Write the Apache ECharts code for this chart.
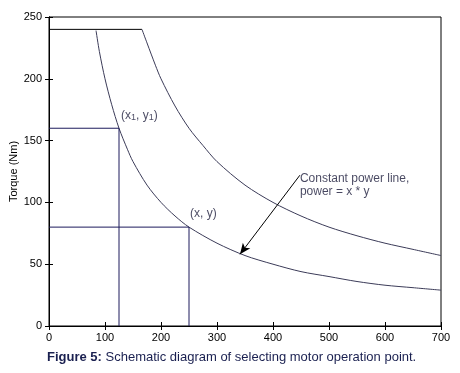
<!DOCTYPE html>
<html lang="en">
<head>
    <meta charset="utf-8">
    <title>motor operation point</title>
    <script src="https://cdn.jsdelivr.net/npm/echarts@6/dist/echarts.min.js"></script>
    <style>
        html, body { margin: 0; padding: 0; background: #fff; }
        #chart { width: 460px; height: 373px; }
    </style>
</head>
<body>
<div id="chart"></div>
<script>
    // values
    var xTicks = [0, 100, 200, 300, 400, 500, 600, 700];
    var yTicks = [0, 50, 100, 150, 200, 250];

    // torque limit (flat part)
    var limitX = [0, 166];
    var limitY = [240, 240];

    // upper constant power curve
    var upperX = [166, 175, 190, 200, 225, 250, 275, 300, 350, 400, 450, 500, 550, 600, 650, 700];
    var upperY = [240, 229, 211, 200, 178, 160, 146, 133, 114, 100, 89, 80, 73, 67, 62, 57];

    // lower constant power curve
    var lowerX = [84, 90, 100, 112, 125, 140, 150, 175, 200, 225, 250, 300, 350, 400, 450, 500, 550, 600, 650, 700];
    var lowerY = [239, 222, 200, 179, 160, 143, 133, 114, 100, 89, 80, 67, 57, 50, 44, 40, 36, 33, 31, 29];

    // operating points (x1,y1) and (x,y)
    var point1 = [125, 160];
    var point2 = [250, 80];

    // arrow from note to lower curve
    var arrowFrom = [448, 122];
    var arrowTo = [341, 58];

    function zip(xs, ys) {
        return xs.map(function (x, i) { return [x, ys[i]]; });
    }

    var chart = echarts.init(document.getElementById('chart'));
    var font = 'Liberation Sans, Arial, sans-serif';
    var navy = '#1c1a5c';
    var curveColor = '#3b3b58';
    var textColor = '#1a1a3a';

    var tickCommon = {
        axisTick: { inside: true, length: 4, lineStyle: { color: '#000' } },
        splitLine: { show: false },
        axisLine: { show: true, lineStyle: { color: '#000', width: 1 } }
    };

    chart.setOption({
        animation: false,
        grid: {
            left: 49, right: 19, top: 17, bottom: 47,
            outerBoundsMode: 'none', containLabel: false,
            show: true, borderColor: '#000', borderWidth: 1
        },
        xAxis: [
            Object.assign({
                type: 'value', min: 0, max: 700, interval: 100,
                axisLabel: { color: '#000', fontSize: 11, fontFamily: font, margin: 6 }
            }, tickCommon),
            Object.assign({
                type: 'value', min: 0, max: 700, interval: 100, position: 'top',
                axisLabel: { show: false }
            }, tickCommon)
        ],
        yAxis: [
            Object.assign({
                type: 'value', min: 0, max: 250, interval: 50,
                name: 'Torque (Nm)', nameLocation: 'middle', nameGap: 30, nameRotate: 90,
                nameMoveOverlap: false,
                nameTextStyle: { color: '#000', fontSize: 11, fontFamily: font },
                axisLabel: { color: '#000', fontSize: 11, fontFamily: font, margin: 7 }
            }, tickCommon),
            Object.assign({
                type: 'value', min: 0, max: 250, interval: 50, position: 'right',
                axisLabel: { show: false }
            }, tickCommon)
        ],
        series: [
            {
                type: 'line', data: zip(limitX, limitY), symbol: 'none',
                lineStyle: { color: '#000', width: 1 }
            },
            {
                type: 'line', data: zip(upperX, upperY), symbol: 'none', smooth: 0.3,
                lineStyle: { color: curveColor, width: 1 }
            },
            {
                type: 'line', data: zip(lowerX, lowerY), symbol: 'none', smooth: 0.3,
                lineStyle: { color: curveColor, width: 1 },
                markLine: {
                    silent: true,
                    symbol: ['none', 'arrow'],
                    symbolSize: [7, 11],
                    label: { show: false },
                    lineStyle: { color: '#000', width: 1, type: 'solid' },
                    data: [[{ coord: arrowFrom }, { coord: arrowTo }]]
                }
            },
            {
                type: 'line', data: [[0, point1[1]], point1, [point1[0], 0]], symbol: 'none',
                lineStyle: { color: navy, width: 1 }
            },
            {
                type: 'line', data: [[0, point2[1]], point2, [point2[0], 0]], symbol: 'none',
                lineStyle: { color: navy, width: 1 }
            },
            {
                type: 'scatter', symbolSize: 0,
                data: [
                    { value: point1, label: { formatter: '(x{s|1}, y{s|1})', offset: [2, -13] } },
                    { value: point2, label: { formatter: '(x, y)', offset: [1, -13] } },
                    { value: arrowFrom, label: { formatter: 'Constant power line,\npower = x * y', fontSize: 12, lineHeight: 13, offset: [0, 10] } }
                ],
                label: {
                    show: true, position: 'right', distance: 0,
                    color: textColor, fontSize: 12, fontFamily: font, lineHeight: 14,
                    rich: { s: { fontSize: 9, verticalAlign: 'bottom', padding: [6, 0, 0, 0], color: textColor } }
                }
            }
        ],
        graphic: [
            {
                type: 'text', left: 47, top: 351,
                style: {
                    text: '{b|Figure 5:} Schematic diagram of selecting motor operation point.',
                    fill: '#1a2050', fontSize: 13, fontFamily: font,
                    rich: { b: { fontWeight: 'bold', fontSize: 13, fontFamily: font, fill: '#1a2050' } }
                }
            }
        ]
    });
</script>
</body>
</html>
